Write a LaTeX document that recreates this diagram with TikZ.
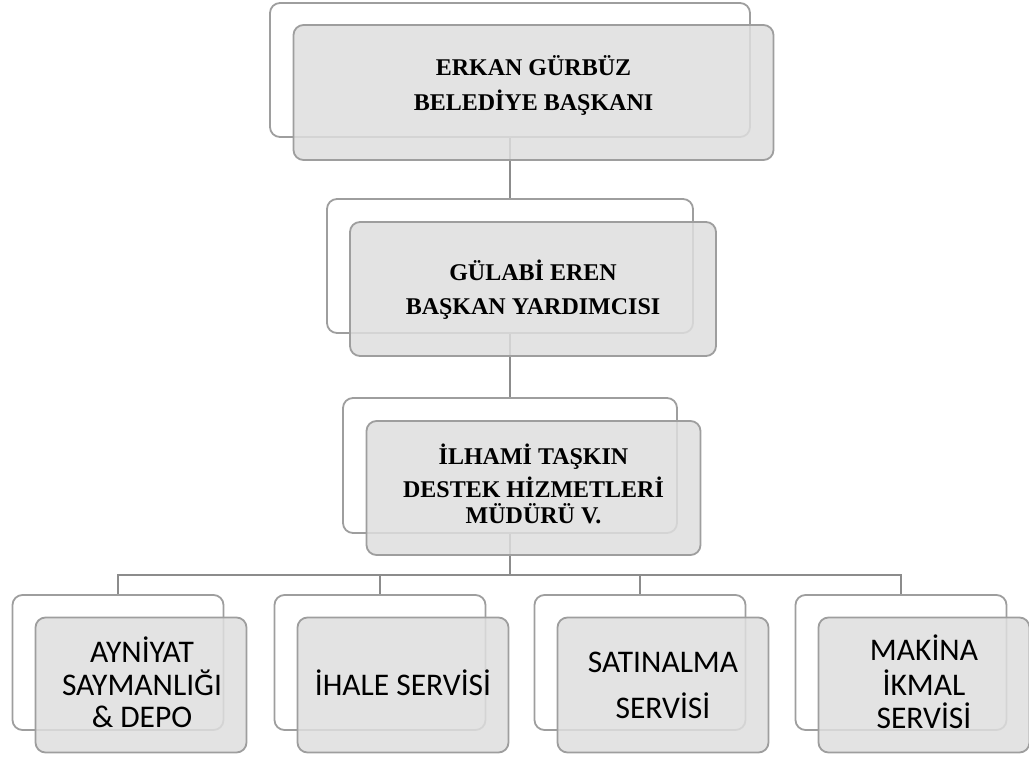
\documentclass[tikz,border=0pt]{standalone}
\usepackage{fontspec}
\setmainfont{Liberation Serif}
\newfontfamily\unitfont{Carlito}
\usetikzlibrary{backgrounds}
\definecolor{boxline}{RGB}{158,158,158}
\definecolor{boxfill}{RGB}{222,222,222}
\definecolor{linkline}{RGB}{140,140,140}
\begin{document}
\begin{tikzpicture}[x=1pt,y=-1pt,
  backbox/.style={draw=boxline, line width=1.8pt, rounded corners=10pt, inner sep=0pt},
  frontbox/.style={backbox, fill=boxfill, fill opacity=0.85},
  link/.style={draw=linkline, line width=1.8pt},
  head/.style={font=\bfseries\fontsize{24}{29}\selectfont, inner sep=0pt, anchor=base},
  unit/.style={font=\unitfont\fontsize{31.5}{38}\selectfont, inner sep=0pt, anchor=base}]
\useasboundingbox (0,0) rectangle (1029,758);

% management chain
\node[backbox, minimum width=480pt, minimum height=134pt] (b1) at (510,70) {};
\node[frontbox, minimum width=480pt, minimum height=135pt] (f1) at (533.5,92.5) {};
\node[backbox, minimum width=366pt, minimum height=134pt] (b2) at (510,266) {};
\node[frontbox, minimum width=366pt, minimum height=134pt] (f2) at (533,289) {};
\node[backbox, minimum width=334pt, minimum height=135pt] (b3) at (510,465.5) {};
\node[frontbox, minimum width=334pt, minimum height=134pt] (f3) at (533.5,488) {};

% service units
\foreach \i/\x in {1/118,2/380,3/640,4/901}{
  \node[backbox, minimum width=211pt, minimum height=135pt] (c\i) at (\x,662.5) {};
  \node[frontbox, minimum width=211pt, minimum height=135pt] (d\i) at (\x+23,685) {};
}

\coordinate (bus) at (510,575);
\begin{scope}[on background layer]
  \draw[link] (b1.south) -- (b2.north);
  \draw[link] (b2.south) -- (b3.north);
  \draw[link] (b3.south) -- (bus);
  \foreach \i in {1,2,3,4}{ \draw[link] (bus) -| (c\i.north); }
\end{scope}

% labels
\node[head] (t1a) at (533.5,75) {ERKAN GÜRBÜZ};
\node[head] (t1b) at (533.5,110) {BELEDİYE BAŞKANI};
\node[head] (t2a) at (533,280) {GÜLABİ EREN};
\node[head] (t2b) at (533,314) {BAŞKAN YARDIMCISI};
\node[head] (t3a) at (533.5,464) {İLHAMİ TAŞKIN};
\node[head] (t3b) at (533.5,497) {DESTEK HİZMETLERİ};
\node[head] (t3c) at (533.5,523) {MÜDÜRÜ V.};

\node[unit] (u1a) at (142,662) {AYNİYAT};
\node[unit] (u1b) at (142,695) {SAYMANLIĞI};
\node[unit] (u1c) at (142,727) {\& DEPO};
\node[unit] (u2a) at (403,695) {İHALE SERVİSİ};
\node[unit] (u3a) at (663,672) {SATINALMA};
\node[unit] (u3b) at (663,718) {SERVİSİ};
\node[unit] (u4a) at (924,660) {MAKİNA};
\node[unit] (u4b) at (924,695) {İKMAL};
\node[unit] (u4c) at (924,728) {SERVİSİ};
\end{tikzpicture}
\end{document}
